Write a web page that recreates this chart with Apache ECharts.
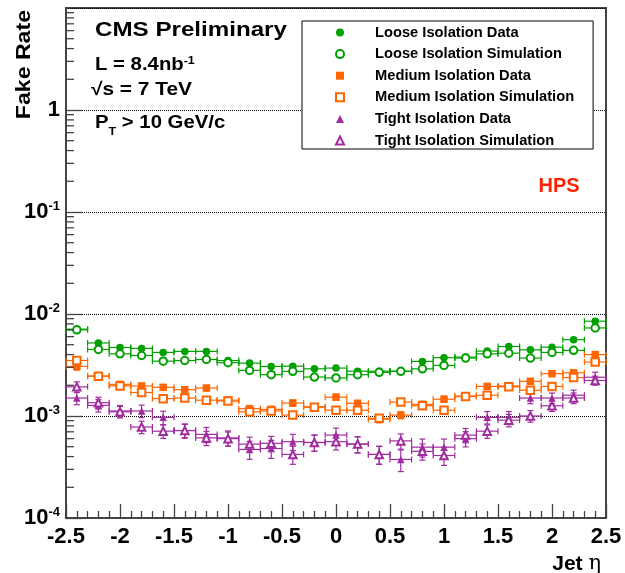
<!DOCTYPE html>
<html><head><meta charset="utf-8">
<script src="https://cdn.jsdelivr.net/npm/echarts@6/dist/echarts.min.js"></script>
<style>html,body{margin:0;padding:0;background:#fff}#c{width:625px;height:573px}</style>
</head><body><div id="c"></div>
<script>
// ---- data (bin centres in jet eta, bin width 0.2) ----
const etaBins = [-2.4,-2.2,-2.0,-1.8,-1.6,-1.4,-1.2,-1.0,-0.8,-0.6,-0.4,-0.2,0.0,0.2,0.4,0.6,0.8,1.0,1.2,1.4,1.6,1.8,2.0,2.2,2.4];
const binHalfWidth = 0.1;
const seriesNames = ['Loose Isolation Data','Loose Isolation Simulation','Medium Isolation Data','Medium Isolation Simulation','Tight Isolation Data','Tight Isolation Simulation'];

const looseData = [7.1e-3,5.2e-3,4.7e-3,4.6e-3,4.2e-3,4.3e-3,4.3e-3,3.5e-3,3.3e-3,3.06e-3,3.08e-3,2.9e-3,2.95e-3,2.75e-3,2.75e-3,2.75e-3,3.43e-3,3.73e-3,3.78e-3,4.33e-3,4.8e-3,4.45e-3,4.73e-3,5.6e-3,8.5e-3];
const looseSim  = [7.0e-3,4.49e-3,4.07e-3,3.92e-3,3.45e-3,3.5e-3,3.58e-3,3.33e-3,2.8e-3,2.54e-3,2.74e-3,2.41e-3,2.36e-3,2.54e-3,2.68e-3,2.74e-3,2.9e-3,3.13e-3,3.7e-3,4.07e-3,4.13e-3,3.7e-3,4.2e-3,4.4e-3,7.3e-3];
const mediumData = [3.06e-3,2.47e-3,2.04e-3,1.97e-3,1.91e-3,1.81e-3,1.88e-3,1.43e-3,1.18e-3,1.16e-3,1.34e-3,1.23e-3,1.53e-3,1.33e-3,0.93e-3,1.02e-3,1.3e-3,1.46e-3,1.57e-3,1.95e-3,1.97e-3,2.19e-3,2.6e-3,2.65e-3,4.0e-3];
const mediumSim  = [3.5e-3,2.45e-3,1.97e-3,1.7e-3,1.48e-3,1.5e-3,1.43e-3,1.4e-3,1.1e-3,1.12e-3,1.02e-3,1.22e-3,1.14e-3,1.14e-3,0.95e-3,1.37e-3,1.26e-3,1.14e-3,1.55e-3,1.6e-3,1.93e-3,1.79e-3,1.95e-3,2.38e-3,3.38e-3];
const tightData = [1.5e-3,1.27e-3,1.12e-3,1.12e-3,0.97e-3,0.72e-3,0.66e-3,0.61e-3,0.47e-3,0.48e-3,0.56e-3,0.55e-3,0.65e-3,0.53e-3,0.42e-3,0.375e-3,0.495e-3,0.495e-3,0.6e-3,0.97e-3,0.97e-3,1.5e-3,1.5e-3,1.6e-3,2.4e-3];
const tightSim  = [1.93e-3,1.35e-3,1.1e-3,0.78e-3,0.71e-3,0.72e-3,0.61e-3,0.6e-3,0.53e-3,0.54e-3,0.42e-3,0.55e-3,0.56e-3,0.53e-3,0.42e-3,0.57e-3,0.45e-3,0.41e-3,0.65e-3,0.71e-3,0.91e-3,1.0e-3,1.26e-3,1.5e-3,2.23e-3];

// relative statistical errors (vertical bars)
const looseDataErr = [0.05,0.04,0.03,0.03,0.03,0.03,0.03,0.03,0.03,0.03,0.03,0.03,0.03,0.03,0.03,0.03,0.03,0.03,0.03,0.03,0.03,0.03,0.03,0.04,0.05];
const looseSimErr  = [0.04,0.03,0.03,0.03,0.03,0.03,0.03,0.03,0.03,0.03,0.03,0.03,0.03,0.03,0.03,0.03,0.03,0.03,0.03,0.03,0.03,0.03,0.03,0.03,0.04];
const mediumDataErr = [0.08,0.06,0.06,0.06,0.06,0.06,0.06,0.07,0.07,0.07,0.07,0.07,0.07,0.07,0.08,0.08,0.07,0.07,0.07,0.06,0.06,0.06,0.06,0.06,0.07];
const mediumSimErr  = [0.07,0.06,0.05,0.05,0.05,0.05,0.05,0.06,0.06,0.06,0.06,0.06,0.06,0.06,0.07,0.06,0.06,0.06,0.06,0.05,0.05,0.05,0.05,0.05,0.06];
const tightDataErr = [0.14,0.14,0.13,0.14,0.15,0.16,0.17,0.17,0.2,0.2,0.18,0.18,0.17,0.18,0.2,0.24,0.2,0.2,0.17,0.14,0.14,0.12,0.12,0.12,0.12];
const tightSimErr  = [0.12,0.13,0.13,0.14,0.15,0.15,0.16,0.16,0.17,0.17,0.2,0.18,0.17,0.18,0.2,0.17,0.18,0.2,0.16,0.15,0.14,0.13,0.12,0.12,0.1];

// y axis minor tick values (2..9 x 10^k)
const yMinorTicks = [];
[1e-4,1e-3,1e-2,1e-1,1].forEach(d => { [2,3,4,5,6,7,8,9].forEach(m => yMinorTicks.push([-2.5, m*d])); });

const GREEN = '#00a000', ORANGE = '#ff6600', PURPLE = '#a02ca0';
const FONT = '"Liberation Sans", Arial, Helvetica, sans-serif';
const SX = 1.13;

function pts(vals, errs){ return etaBins.map((x,i)=>[x, vals[i], vals[i]*(1-errs[i]), vals[i]*(1+errs[i])]); }

function errSeries(color, vals, errs){
  return { type:'custom', coordinateSystem:'cartesian2d', silent:true, z:2,
    data: pts(vals, errs), encode:{x:0, y:[1,2,3]}, clip:false,
    renderItem: function(params, api){
      const x=api.value(0), y=api.value(1), lo=api.value(2), hi=api.value(3);
      const l=api.coord([x-binHalfWidth,y]), r=api.coord([x+binHalfWidth,y]), t=api.coord([x,hi]), b=api.coord([x,lo]);
      const st={stroke:color, lineWidth:1.2};
      const cap=3;
      return {type:'group', children:[
        {type:'line', shape:{x1:l[0],y1:l[1],x2:r[0],y2:r[1]}, style:st},
        {type:'line', shape:{x1:l[0],y1:l[1]-cap,x2:l[0],y2:l[1]+cap}, style:st},
        {type:'line', shape:{x1:r[0],y1:r[1]-cap,x2:r[0],y2:r[1]+cap}, style:st},
        {type:'line', shape:{x1:t[0],y1:t[1],x2:b[0],y2:b[1]}, style:st},
        {type:'line', shape:{x1:t[0]-cap,y1:t[1],x2:t[0]+cap,y2:t[1]}, style:st},
        {type:'line', shape:{x1:b[0]-cap,y1:b[1],x2:b[0]+cap,y2:b[1]}, style:st}
      ]};
    }
  };
}
function markSeries(name, color, symbol, vals){
  return { type:'scatter', name:name, symbol:symbol, symbolSize:7.5, z:3,
    itemStyle:{color:color, borderColor:color, borderWidth: symbol.indexOf('empty')===0 ? 1.3 : 0, opacity:1},
    data: etaBins.map((x,i)=>[x, vals[i]]) };
}

const chart = echarts.init(document.getElementById('c'), null, {renderer:'canvas'});
chart.setOption({
  animation:false,
  backgroundColor:'#fff',
  grid:{left:66, right:19, top:8, bottom:55, show:true, borderColor:'#444', borderWidth:2, backgroundColor:'#fff'},
  xAxis:{type:'value', min:-2.5, max:2.5, interval:0.5,
    axisLine:{onZero:false, lineStyle:{color:'#444', width:2}},
    axisTick:{inside:true, length:14, lineStyle:{color:'#444', width:1.3}},
    minorTick:{show:true, splitNumber:5, length:7, lineStyle:{color:'#444', width:1.3}},
    splitLine:{show:false},
    axisLabel:{fontFamily:FONT, fontWeight:'bold', fontSize:22, color:'#000', margin:8}
  },
  yAxis:{type:'log', logBase:10, min:1e-4, max:10,
    axisLine:{show:true, onZero:false, lineStyle:{color:'#444', width:2}},
    axisTick:{show:true, inside:true, length:16, lineStyle:{color:'#444', width:1.3}},
    splitLine:{show:true, lineStyle:{type:'dotted', color:'#000', width:1}},
    axisLabel:{margin:6, showMaxLabel:false,
      formatter:function(v){
        if (v >= 5) return '';
        const e = Math.round(Math.log10(v));
        if (e === 0) return '{b|1}';
        return '{b|10}{s|' + e + '}';
      },
      rich:{
        b:{fontFamily:FONT, fontWeight:'bold', fontSize:22, color:'#000', lineHeight:24},
        s:{fontFamily:FONT, fontWeight:'bold', fontSize:13, color:'#000', verticalAlign:'top', lineHeight:13}
      }
    }
  },
  legend:{orient:'vertical', left:302, top:21, padding:[4,19,1,33], itemGap:6.6, itemWidth:8, itemHeight:8,
    borderColor:'#000', borderWidth:1, backgroundColor:'#fff', selectedMode:false,
    textStyle:{fontFamily:FONT, fontWeight:'bold', fontSize:14.7, color:'#000', padding:[0,0,0,26], lineHeight:14},
    data: seriesNames
  },
  graphic:[
    {type:'text', x:24, y:10, rotation:Math.PI/2, scaleX:1.1, style:{text:'Fake Rate', align:'right', verticalAlign:'middle', font:'bold 21px '+FONT, fill:'#000'}},
    {type:'text', x:95, y:30, scaleX:1.15, style:{text:'CMS Preliminary', align:'left', verticalAlign:'middle', font:'bold 21px '+FONT, fill:'#000'}},
    {type:'text', x:95, y:65, scaleX:SX, style:{text:'{a|L = 8.4nb}{s|-1}', align:'left', verticalAlign:'middle',
      rich:{a:{font:'bold 18px '+FONT, fill:'#000', lineHeight:20}, s:{font:'bold 11px '+FONT, fill:'#000', verticalAlign:'top', lineHeight:11}}}},
    {type:'text', x:91, y:90, scaleX:1.16, style:{text:'\u221As = 7 TeV', align:'left', verticalAlign:'middle', font:'bold 18px '+FONT, fill:'#000'}},
    {type:'text', x:95, y:123, scaleX:SX, style:{text:'{a|P}{t|T}{a| > 10 GeV/c}', align:'left', verticalAlign:'middle',
      rich:{a:{font:'bold 18px '+FONT, fill:'#000', lineHeight:20}, t:{font:'bold 11px '+FONT, fill:'#000', verticalAlign:'bottom', lineHeight:11, padding:[0,0,-4,0]}}}},
    {type:'text', x:559, y:186, style:{text:'HPS', align:'center', verticalAlign:'middle', font:'bold 20px '+FONT, fill:'#ff2200'}},
    {type:'text', x:601, y:564, style:{text:'{a|Jet }{e|\u03b7}', align:'right', verticalAlign:'middle',
      rich:{a:{font:'bold 21px '+FONT, fill:'#000'}, e:{font:'21px "DejaVu Serif", serif', fill:'#000'}}}}
  ],
  series:[
    errSeries(GREEN, looseData, looseDataErr),
    errSeries(GREEN, looseSim, looseSimErr),
    errSeries(ORANGE, mediumData, mediumDataErr),
    errSeries(ORANGE, mediumSim, mediumSimErr),
    errSeries(PURPLE, tightData, tightDataErr),
    errSeries(PURPLE, tightSim, tightSimErr),
    markSeries(seriesNames[0], GREEN, 'circle', looseData),
    markSeries(seriesNames[1], GREEN, 'emptyCircle', looseSim),
    markSeries(seriesNames[2], ORANGE, 'rect', mediumData),
    markSeries(seriesNames[3], ORANGE, 'emptyRect', mediumSim),
    markSeries(seriesNames[4], PURPLE, 'triangle', tightData),
    markSeries(seriesNames[5], PURPLE, 'emptyTriangle', tightSim),
    { type:'custom', coordinateSystem:'cartesian2d', silent:true, z:4, clip:false,
      data: yMinorTicks, encode:{x:0, y:1},
      renderItem:function(params, api){
        const p = api.coord([api.value(0), api.value(1)]);
        return {type:'line', shape:{x1:p[0], y1:p[1], x2:p[0]+8, y2:p[1]}, style:{stroke:'#444', lineWidth:1.3}};
      }
    }
  ]
});
</script>
</body></html>
